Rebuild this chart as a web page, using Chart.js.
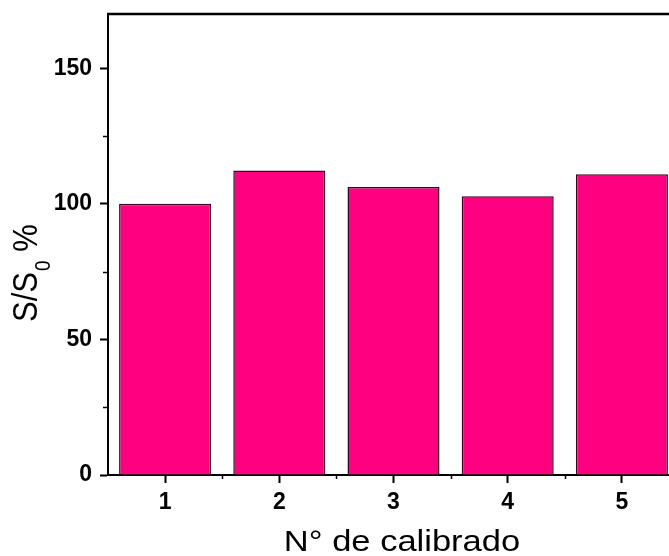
<!DOCTYPE html>
<html>
<head>
<meta charset="utf-8">
<script src="https://cdn.jsdelivr.net/npm/chart.js@4.4.0/dist/chart.umd.min.js"></script>
<style>
  html, body { margin: 0; padding: 0; background: #fff; overflow: hidden; }
  #wrap { width: 669px; height: 556px; overflow: hidden; position: relative; }
  canvas { display: block; }
</style>
</head>
<body>
<div id="wrap"><canvas id="c" width="700" height="556"></canvas></div>
<script>
// ---- data ----
const categories = ['1', '2', '3', '4', '5'];
const values = [100, 112.3, 106.2, 102.8, 110.9];
const yMinorTicks = [25, 75, 125];
const yMin = 0;
const yMax = 170;
const yStep = 50;
const xTitle = 'N° de calibrado';
const yTitleMain = 'S/S';
const yTitleSub = '0';
const yTitleEnd = ' %';

const FONT = '"Liberation Sans", Arial, Helvetica, sans-serif';
const HSTRETCH = 1.15;

const framePlugin = {
  id: 'frameAndExtras',
  afterDraw(chart) {
    const ctx = chart.ctx;
    const a = chart.chartArea;
    const xs = chart.scales.x, ys = chart.scales.y;
    ctx.save();
    ctx.strokeStyle = '#000';
    // frame top & right
    ctx.lineWidth = 2.5;
    ctx.beginPath();
    ctx.moveTo(a.left - 1, a.top);
    ctx.lineTo(a.right, a.top);
    ctx.lineTo(a.right, a.bottom);
    ctx.stroke();
    // minor y ticks
    ctx.lineWidth = 1.5;
    yMinorTicks.forEach(v => {
      const py = Math.round(ys.getPixelForValue(v)) + 0.5;
      ctx.beginPath();
      ctx.moveTo(a.left - 5, py);
      ctx.lineTo(a.left, py);
      ctx.stroke();
    });
    // minor x ticks at category boundaries
    for (let i = 0; i < categories.length - 1; i++) {
      const px = Math.round((xs.getPixelForTick(i) + xs.getPixelForTick(i + 1)) / 2) + 0.5;
      ctx.beginPath();
      ctx.moveTo(px, a.bottom);
      ctx.lineTo(px, a.bottom + 4);
      ctx.stroke();
    }
    // x title
    ctx.fillStyle = '#000';
    const cx = 402;
    ctx.save();
    ctx.translate(cx, 551);
    ctx.scale(HSTRETCH, 1);
    ctx.font = '30px ' + FONT;
    ctx.textAlign = 'center';
    ctx.textBaseline = 'alphabetic';
    ctx.fillText(xTitle, 0, 0);
    ctx.restore();
    // y title (rotated, with subscript)
    ctx.save();
    ctx.translate(37, 322);
    ctx.scale(HSTRETCH, 1);
    ctx.rotate(-Math.PI / 2);
    ctx.textAlign = 'left';
    ctx.textBaseline = 'alphabetic';
    ctx.font = '31px ' + FONT;
    ctx.fillText(yTitleMain, 0, 0);
    let w = ctx.measureText(yTitleMain).width;
    ctx.font = '19px ' + FONT;
    ctx.fillText(yTitleSub, w + 1, 11);
    w += ctx.measureText(yTitleSub).width + 1;
    ctx.font = '31px ' + FONT;
    ctx.fillText(yTitleEnd, w, 0);
    ctx.restore();
    ctx.restore();
  }
};

new Chart(document.getElementById('c'), {
  type: 'bar',
  data: {
    labels: categories,
    datasets: [{
      data: values,
      backgroundColor: '#ff0080',
      borderColor: '#3a0620',
      borderWidth: 1.5,
      borderSkipped: 'bottom',
      barPercentage: 0.806,
      categoryPercentage: 1.0
    }]
  },
  options: {
    responsive: false,
    animation: false,
    events: [],
    layout: { padding: { top: 14, right: 21, left: 0, bottom: 0 } },
    plugins: { legend: { display: false }, tooltip: { enabled: false } },
    scales: {
      x: {
        offset: true,
        grid: { drawOnChartArea: false, drawTicks: true, tickLength: 8, tickWidth: 2, tickColor: '#000', offset: false },
        border: { display: true, color: '#000', width: 2 },
        ticks: { color: '#000', font: { family: FONT, size: 23, weight: 'bold' }, padding: 6, maxRotation: 0 },
        afterFit(scale) { scale.height = 81; scale.paddingLeft = 0; scale.paddingRight = 0; }
      },
      y: {
        min: yMin,
        max: yMax,
        grid: { drawOnChartArea: false, drawTicks: true, tickLength: 8, tickWidth: 2, tickColor: '#000' },
        border: { display: true, color: '#000', width: 2 },
        ticks: { stepSize: yStep, includeBounds: false, color: '#000', font: { family: FONT, size: 23, weight: 'bold' }, padding: 8 },
        afterFit(scale) { scale.width = 108; scale.paddingTop = 0; scale.paddingBottom = 0; }
      }
    }
  },
  plugins: [framePlugin]
});
</script>
</body>
</html>
